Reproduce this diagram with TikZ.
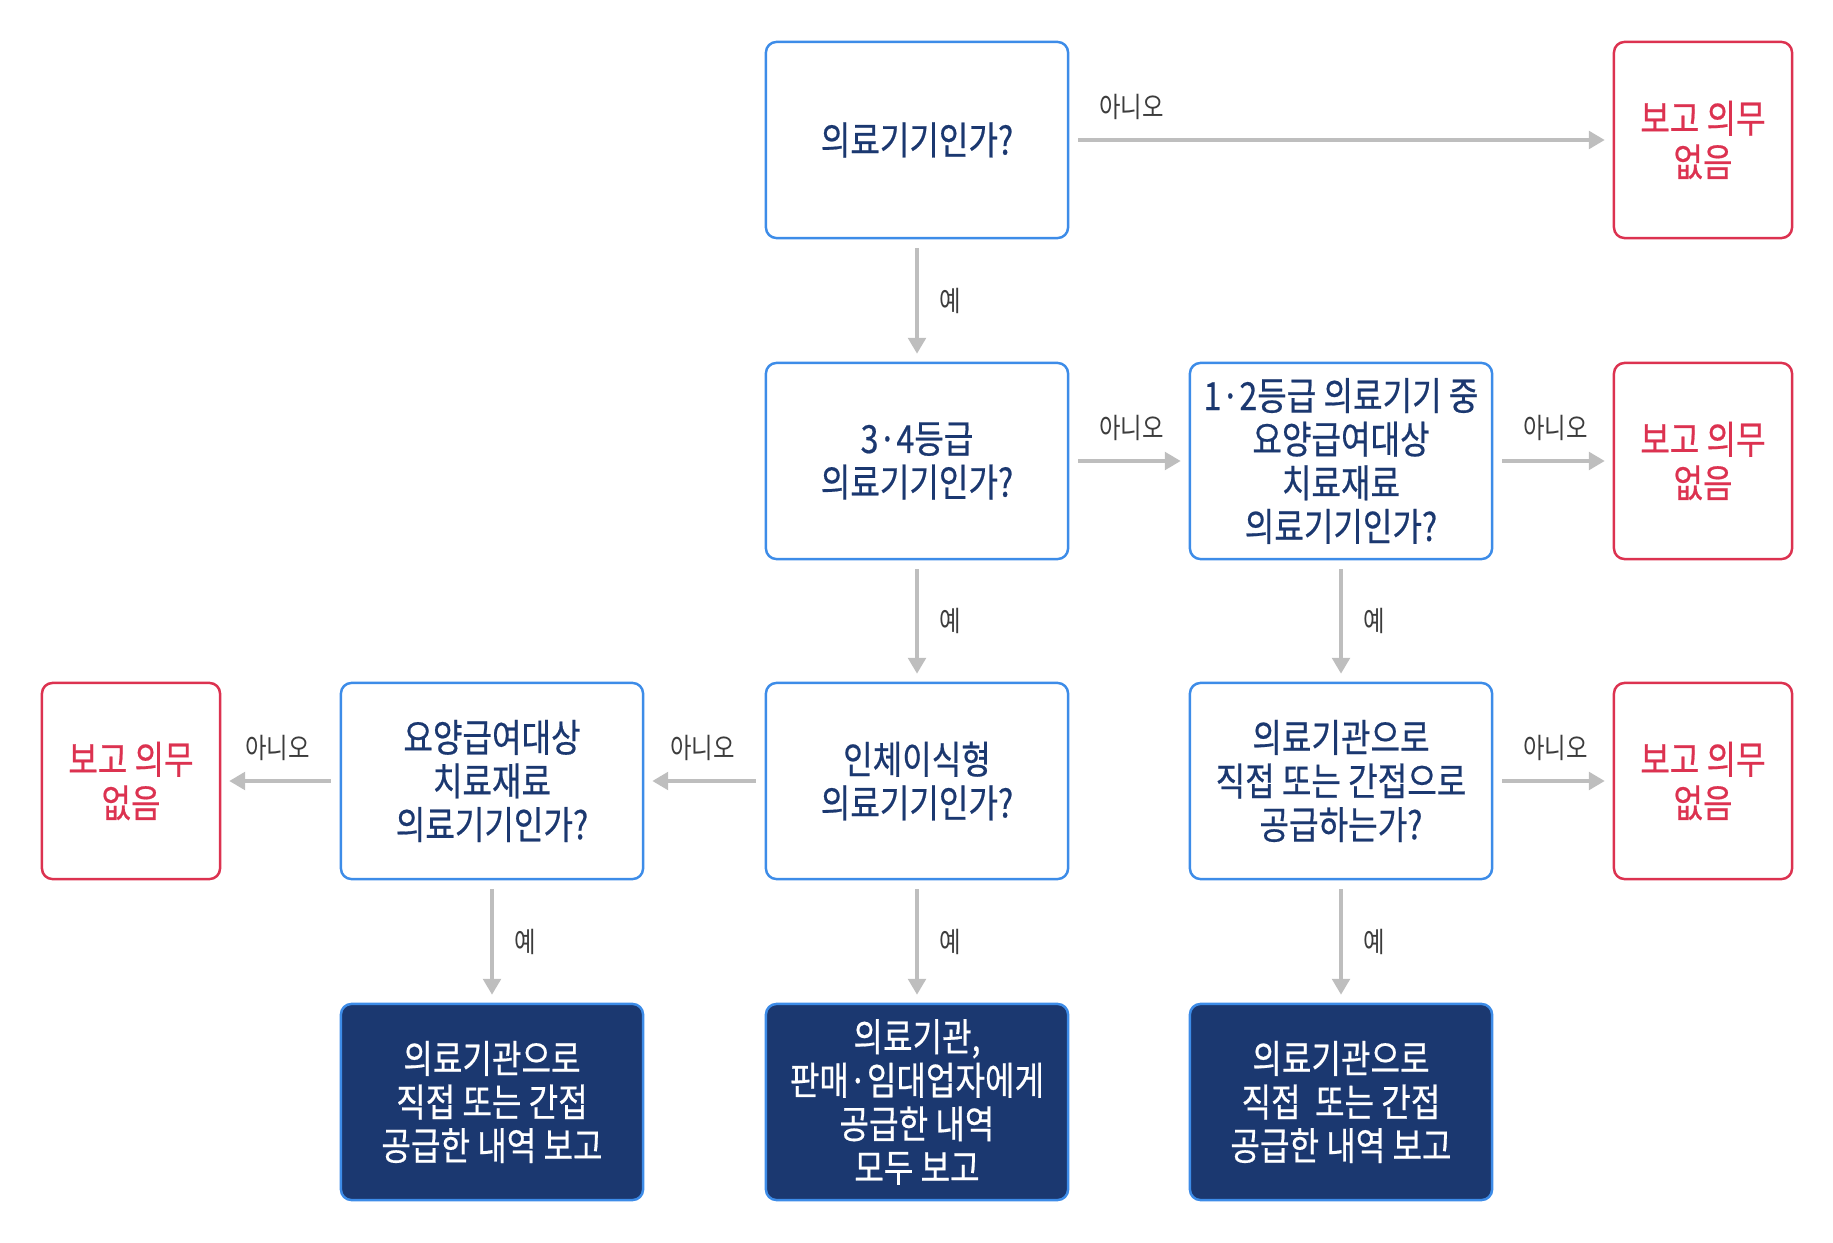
\documentclass[tikz,border=0pt]{standalone}
\usepackage{fontspec}
\newfontfamily\krfont[FakeStretch=0.83,FakeBold=0.5]{Noto Sans CJK KR}
\newfontfamily\krlight[FakeStretch=0.83]{Noto Sans CJK KR}
\usetikzlibrary{arrows.meta}
\definecolor{qblue}{RGB}{61,140,232}
\definecolor{qnavy}{RGB}{27,56,112}
\definecolor{qred}{RGB}{220,50,80}
\definecolor{qgray}{RGB}{190,190,190}
\definecolor{qtext}{RGB}{60,60,60}
\tikzset{
  qbox/.style={draw=qblue,line width=0.7pt,fill=white,rounded corners=3pt,
    minimum width=3.02cm,minimum height=1.96cm,align=center,text=qnavy,
    font=\krfont\fontsize{11}{12.4}\selectfont},
  nobox/.style={qbox,draw=qred,text=qred,minimum width=1.78cm},
  endbox/.style={qbox,fill=qnavy,text=white},
  arr/.style={draw=qgray,line width=1pt,shorten <=0.09cm,shorten >=0.08cm,
    -{Triangle[length=4.5pt,width=5pt]}},
  lbl/.style={text=qtext,font=\krlight\fontsize{8}{9}\selectfont,inner sep=0pt},
  nolbl/.style={lbl,pos=0,xshift=0.62cm,yshift=0.33cm},
  nolblleft/.style={lbl,pos=0,xshift=-0.62cm,yshift=0.33cm},
  yeslbl/.style={lbl,midway,xshift=0.33cm},
}
\begin{document}
\begin{tikzpicture}[x=0.01cm,y=-0.01cm]
	\useasboundingbox (0,0) rectangle (1833,1243);
	\node[qbox] (q1) at (917,140) {의료기기인가?};
	\node[nobox] (n1) at (1703,140) {보고 의무\\없음};
	\node[qbox] (q2) at (917,461) {3·4등급\\의료기기인가?};
	\node[qbox] (q3) at (1341,461) {1·2등급 의료기기 중\\요양급여대상\\치료재료\\의료기기인가?};
	\node[nobox] (n2) at (1703,461) {보고 의무\\없음};
	\node[qbox] (q4) at (917,781) {인체이식형\\의료기기인가?};
	\node[qbox] (q5) at (492,781) {요양급여대상\\치료재료\\의료기기인가?};
	\node[nobox] (n3) at (131,781) {보고 의무\\없음};
	\node[qbox] (q6) at (1341,781) {의료기관으로\\직접 또는 간접으로\\공급하는가?};
	\node[nobox] (n4) at (1703,781) {보고 의무\\없음};
	\node[endbox] (e1) at (492,1102) {의료기관으로\\직접 또는 간접\\공급한 내역 보고};
	\node[endbox] (e2) at (917,1102) {의료기관,\\판매·임대업자에게\\공급한 내역\\모두 보고};
	\node[endbox] (e3) at (1341,1102) {의료기관으로\\직접\ \ 또는 간접\\공급한 내역 보고};

	\draw[arr] (q1) -- (n1) node[nolbl]{아니오};
	\draw[arr] (q2) -- (q3) node[nolbl]{아니오};
	\draw[arr] (q3) -- (n2) node[nolbl]{아니오};
	\draw[arr] (q6) -- (n4) node[nolbl]{아니오};
	\draw[arr] (q4) -- (q5) node[nolblleft]{아니오};
	\draw[arr] (q5) -- (n3) node[nolblleft]{아니오};
	\draw[arr] (q1) -- (q2) node[yeslbl]{예};
	\draw[arr] (q2) -- (q4) node[yeslbl]{예};
	\draw[arr] (q3) -- (q6) node[yeslbl]{예};
	\draw[arr] (q5) -- (e1) node[yeslbl]{예};
	\draw[arr] (q4) -- (e2) node[yeslbl]{예};
	\draw[arr] (q6) -- (e3) node[yeslbl]{예};
\end{tikzpicture}
\end{document}
